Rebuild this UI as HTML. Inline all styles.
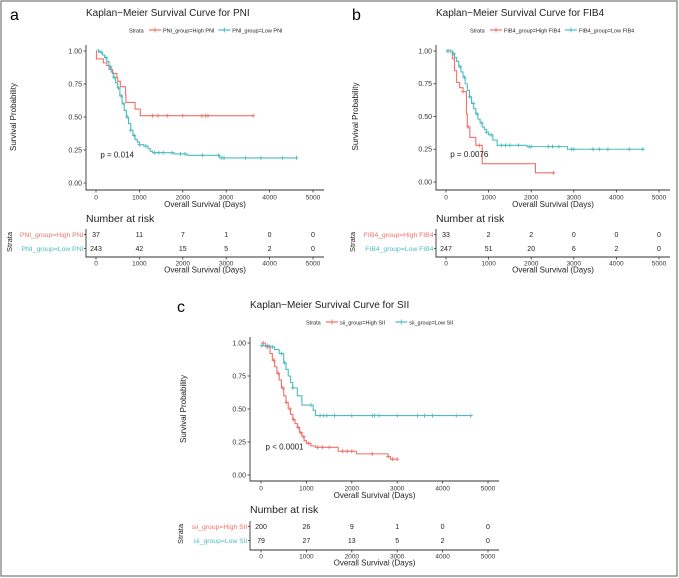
<!DOCTYPE html>
<html><head><meta charset="utf-8">
<style>
html,body{margin:0;padding:0;background:#fff;}
svg{display:block;font-family:"Liberation Sans",Arial,sans-serif;}
</style></head>
<body>
<svg id="chart" width="679" height="578" viewBox="0 0 679 578" xmlns="http://www.w3.org/2000/svg">
<rect x="1" y="1" width="676" height="575" fill="#fff" stroke="#777" stroke-width="1.2"/>
</svg>
<script>
// ---------- data ----------
const xTicks = [0,1000,2000,3000,4000,5000];
const yTicks = [0,0.25,0.5,0.75,1.0];
const yTickLabels = ["0.00","0.25","0.50","0.75","1.00"];

const pniHighT = [0,10,170,250,300,380,480,500,560,680,690,900,1020,3620];
const pniHighS = [1,0.94,0.91,0.89,0.86,0.83,0.80,0.77,0.73,0.67,0.61,0.56,0.51,0.51];
const pniHighC = [1300,1430,1640,2000,2440,2520,2580,3620];
const pniLowT = [0,100,150,200,250,300,350,400,450,500,550,600,650,700,750,800,850,900,950,1000,1100,1200,1250,1300,1700,1800,2100,2850,4620];
const pniLowS = [1,0.99,0.97,0.95,0.92,0.88,0.84,0.80,0.76,0.72,0.66,0.60,0.55,0.50,0.45,0.40,0.36,0.33,0.31,0.29,0.28,0.26,0.24,0.23,0.23,0.22,0.21,0.19,0.19];
const pniLowC = [60,120,230,330,420,520,580,640,720,800,880,1000,1150,1350,1450,1550,1750,1950,2050,2450,2820,2900,2950,3450,3800,4300,4620];

const fibHighT = [0,150,200,250,320,400,480,500,560,700,850,2100,2520];
const fibHighS = [1,0.94,0.85,0.76,0.72,0.69,0.52,0.42,0.34,0.28,0.14,0.07,0.07];
const fibHighC = [50,400,520,780,2520];
const fibLowT = [0,150,200,250,300,350,400,450,500,550,600,650,700,750,800,850,900,950,1000,1100,1200,1900,2850,4620];
const fibLowS = [1,0.98,0.95,0.92,0.88,0.84,0.80,0.75,0.70,0.65,0.60,0.56,0.52,0.48,0.45,0.42,0.40,0.38,0.36,0.32,0.28,0.27,0.25,0.25];
const fibLowC = [40,100,180,330,430,560,640,730,840,950,1060,1300,1400,1500,1700,1950,2000,2400,2500,2650,2950,3000,3450,3600,3800,4300,4620];

const siiHighT = [0,100,200,250,300,350,400,450,500,550,600,650,700,750,800,850,900,950,1000,1100,1200,1700,2100,2800,2850,3000];
const siiHighS = [1,0.97,0.92,0.87,0.82,0.77,0.72,0.66,0.60,0.55,0.50,0.46,0.42,0.39,0.36,0.32,0.29,0.26,0.24,0.22,0.21,0.18,0.16,0.14,0.12,0.12];
const siiHighC = [50,150,280,380,480,560,640,720,820,880,940,1050,1250,1350,1500,1800,1900,2000,2450,2800,2900,3000];
const siiLowT = [0,200,300,400,500,550,600,650,700,800,900,1100,1150,1200,4620];
const siiLowS = [0.98,0.97,0.95,0.92,0.85,0.80,0.75,0.70,0.66,0.60,0.53,0.53,0.49,0.45,0.45];
const siiLowC = [20,150,250,450,520,700,1100,1300,1380,1450,1620,2000,2450,2500,2600,3000,3450,3600,3780,4300,4620];

const pniRiskHigh = [37,11,7,1,0,0];
const pniRiskLow = [243,42,15,5,2,0];
const fibRiskHigh = [33,2,2,0,0,0];
const fibRiskLow = [247,51,20,6,2,0];
const siiRiskHigh = [200,26,9,1,0,0];
const siiRiskLow = [79,27,13,5,2,0];

const RED = "#F07068", TEAL = "#4CBCC0";
// ---------- drawing ----------
const svg = document.getElementById('chart');
const NS = "http://www.w3.org/2000/svg";
function mk(tag, attrs, parent, text){
  const e = document.createElementNS(NS, tag);
  for (const k in attrs) e.setAttribute(k, attrs[k]);
  if (text !== undefined) e.textContent = text;
  (parent||svg).appendChild(e);
  return e;
}

function panel(cfg){
  const g = mk('g', {});
  
  
  const x0 = cfg.x0, x1 = cfg.x1, yTop = cfg.yTop, yBot = cfg.yBot;
  const xs = d => x0 + (x1 - x0) * d / 5000;
  const ys = v => yBot - (yBot - yTop) * v;
  let t = mk('text', {x: cfg.lx, y: cfg.ly, 'font-size': 16, fill: '#000'}, g, cfg.letter);
   
  t = mk('text', {x: cfg.axL, y: cfg.titleY, 'font-size': 10, fill: '#222'}, g, cfg.title);
   
  const lg = mk('g', {}, g);
   
  let lx = cfg.legX;
  mk('text', {x: lx, y: cfg.legY + 2.5, 'font-size': 5.5, fill: '#222'}, lg, 'Strata');
  lx += 20;
  [[RED, cfg.names[0]], [TEAL, cfg.names[1]]].forEach(([c, n]) => {
    const le = mk('g', {}, lg);
     
    mk('line', {x1: lx, y1: cfg.legY, x2: lx + 12, y2: cfg.legY, stroke: c, 'stroke-width': 1.2}, le);
    mk('path', {d: `M${lx+3.5} ${cfg.legY}h5M${lx+6} ${cfg.legY-2.5}v5`, stroke: c, 'stroke-width': 0.9}, le);
    mk('text', {x: lx + 14, y: cfg.legY + 2.5, 'font-size': 5.5, fill: '#222'}, le, n);
    lx += 14 + n.length * 2.85 + 4;
  });
  const ax = mk('g', {}, g);
   
  mk('path', {d: `M${cfg.axL} ${yTop-6}V${cfg.axB}H${x1+11}`, stroke: '#333', fill: 'none', 'stroke-width': 0.9}, ax);
  yTicks.forEach((v, i) => {
    mk('line', {x1: cfg.axL - 2.5, x2: cfg.axL, y1: ys(v), y2: ys(v), stroke: '#333', 'stroke-width': 0.8}, ax);
    mk('text', {x: cfg.axL - 4, y: ys(v) + 2.4, 'font-size': 7, 'text-anchor': 'end', fill: '#333'}, ax, yTickLabels[i]);
  });
  xTicks.forEach(d => {
    mk('line', {x1: xs(d), x2: xs(d), y1: cfg.axB, y2: cfg.axB + 2.5, stroke: '#333', 'stroke-width': 0.8}, ax);
    mk('text', {x: xs(d), y: cfg.axB + 9.5, 'font-size': 6.5, 'text-anchor': 'middle', fill: '#333'}, ax, String(d));
  });
  t = mk('text', {x: (cfg.axL + x1 + 11) / 2, y: cfg.axB + 17, 'font-size': 8, 'text-anchor': 'middle', fill: '#222'}, g, 'Overall Survival (Days)');
   
  const ymid = (yTop + yBot) / 2;
  t = mk('text', {x: cfg.ylx, y: ymid, 'font-size': 8, 'text-anchor': 'middle', fill: '#222', transform: `rotate(-90 ${cfg.ylx} ${ymid})`}, g, 'Survival Probability');
   
  cfg.series.forEach((s, si) => {
    const sg = mk('g', {}, g);
    
    
    let d = `M${xs(s.T[0])} ${ys(s.S[0])}`;
    for (let i = 1; i < s.T.length; i++) d += `H${xs(s.T[i])}V${ys(s.S[i])}`;
    mk('path', {d, stroke: s.c, fill: 'none', 'stroke-width': 1.1}, sg);
    s.C.forEach(ct => {
      let v = s.S[0];
      for (let i = 0; i < s.T.length; i++) if (s.T[i] <= ct) v = s.S[i];
      const cx = xs(ct), cy = ys(v);
      const m = mk('path', {d: `M${cx-2} ${cy}h4M${cx} ${cy-2}v4`, stroke: s.c, 'stroke-width': 0.9}, sg);
      
      
    });
  });
  t = mk('text', {x: xs(cfg.pX), y: ys(0.2) + 1, 'font-size': 8, fill: '#222'}, g, cfg.p);
   
  const rt = mk('g', {}, g);
   
  mk('text', {x: cfg.axL, y: cfg.nrY, 'font-size': 10.5, fill: '#222'}, rt, 'Number at risk');
  mk('path', {d: `M${cfg.axL} ${cfg.r1-8}V${cfg.rAx}H${x1+11}`, stroke: '#333', fill: 'none', 'stroke-width': 0.9}, rt);
  [[cfg.risk[0], cfg.r1, RED, cfg.names[0]], [cfg.risk[1], cfg.r2, TEAL, cfg.names[1]]].forEach(([arr, yy, c, n]) => {
    mk('line', {x1: cfg.axL - 2, x2: cfg.axL, y1: yy - 2.5, y2: yy - 2.5, stroke: '#333', 'stroke-width': 0.8}, rt);
    mk('text', {x: cfg.axL - 2.5, y: yy, 'font-size': 6.8, 'text-anchor': 'end', fill: c}, rt, n);
    arr.forEach((v, i) => mk('text', {x: xs(xTicks[i]), y: yy, 'font-size': 7, 'text-anchor': 'middle', fill: '#222'}, rt, String(v)));
  });
  const sy = (cfg.r1 + cfg.r2) / 2 - 2;
  mk('text', {x: cfg.stx, y: sy, 'font-size': 7.5, 'text-anchor': 'middle', fill: '#222', transform: `rotate(-90 ${cfg.stx} ${sy})`}, rt, 'Strata');
  xTicks.forEach(d => {
    mk('line', {x1: xs(d), x2: xs(d), y1: cfg.rAx, y2: cfg.rAx + 2.5, stroke: '#333', 'stroke-width': 0.8}, rt);
    mk('text', {x: xs(d), y: cfg.rAx + 8.5, 'font-size': 6.5, 'text-anchor': 'middle', fill: '#333'}, rt, String(d));
  });
  mk('text', {x: (cfg.axL + x1 + 11) / 2, y: cfg.rAx + 15.5, 'font-size': 8, 'text-anchor': 'middle', fill: '#222'}, rt, 'Overall Survival (Days)');
}

panel({id:'pni', letter:'a', lx:10, ly:20, title:'Kaplan\u2212Meier Survival Curve for PNI', titleY:16,
  legX:129, legY:30, names:['PNI_group=High PNI','PNI_group=Low PNI'],
  x0:96, x1:313, yTop:51, yBot:183, axL:86, axB:190, ylx:16,
  series:[{T:pniHighT,S:pniHighS,C:pniHighC,c:RED},{T:pniLowT,S:pniLowS,C:pniLowC,c:TEAL}],
  p:'p = 0.014', pX:100, nrY:222, r1:237, r2:251, rAx:257, stx:12, risk:[pniRiskHigh,pniRiskLow]});

panel({id:'fib4', letter:'b', lx:352, ly:20, title:'Kaplan\u2212Meier Survival Curve for FIB4', titleY:16,
  legX:470, legY:30, names:['FIB4_group=High FIB4','FIB4_group=Low FIB4'],
  x0:446, x1:659, yTop:51, yBot:182, axL:436, axB:190, ylx:358,
  series:[{T:fibHighT,S:fibHighS,C:fibHighC,c:RED},{T:fibLowT,S:fibLowS,C:fibLowC,c:TEAL}],
  p:'p = 0.0076', pX:100, nrY:222, r1:237, r2:251, rAx:257, stx:355, risk:[fibRiskHigh,fibRiskLow]});

panel({id:'sii', letter:'c', lx:177, ly:312, title:'Kaplan\u2212Meier Survival Curve for SII', titleY:308,
  legX:306, legY:322, names:['sii_group=High SII','sii_group=Low SII'],
  x0:261, x1:488, yTop:343, yBot:475, axL:250, axB:481, ylx:186,
  series:[{T:siiHighT,S:siiHighS,C:siiHighC,c:RED},{T:siiLowT,S:siiLowS,C:siiLowC,c:TEAL}],
  p:'p < 0.0001', pX:100, nrY:513, r1:529, r2:543, rAx:550, stx:183, risk:[siiRiskHigh,siiRiskLow]});
</script>
</body></html>
